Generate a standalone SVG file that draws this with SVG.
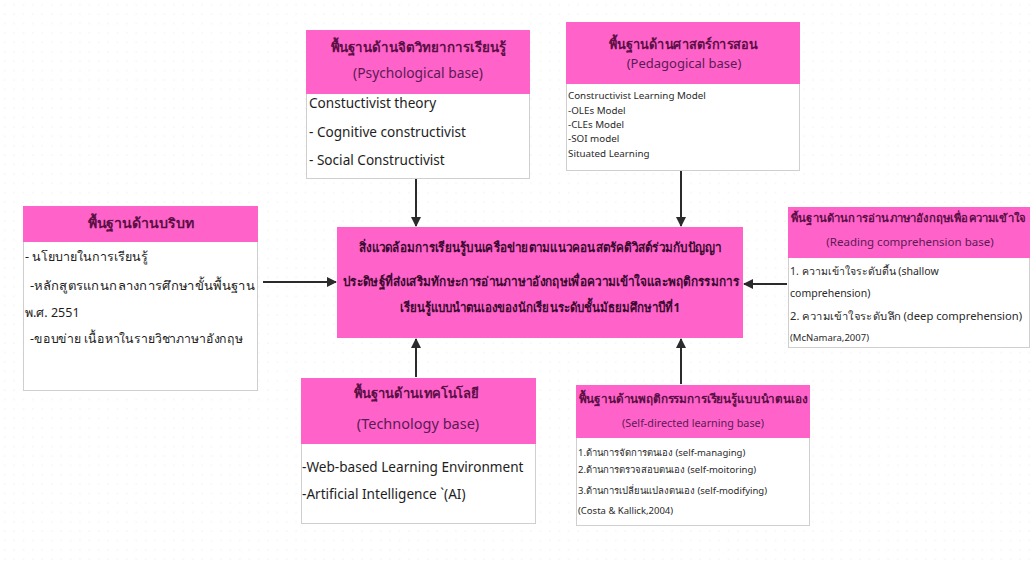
<svg xmlns="http://www.w3.org/2000/svg" width="1034" height="563" viewBox="0 0 1034 563">
  <defs>
    <pattern id="dots" width="9.4" height="9.4" patternUnits="userSpaceOnUse">
      <circle cx="4.7" cy="4.7" r="0.8" fill="#f1f1f1"/>
    </pattern>
    <marker id="arrow" viewBox="0 0 10 10" refX="9" refY="5" markerWidth="5" markerHeight="5" orient="auto" markerUnits="strokeWidth">
      <path d="M0,0 L10,5 L0,10 z" fill="#2b2b2b"/>
    </marker>
    <style>
      .head { fill: #ff63c9; }
      .body { fill: #ffffff; stroke: #cfcfcf; stroke-width: 1; }
      .title { font-family: "Noto Sans", "DejaVu Sans", sans-serif; font-size: 13.5px; font-weight: bold; fill: #5a0f45; text-anchor: middle; }
      .sub { font-family: "Noto Sans", "DejaVu Sans", sans-serif; font-size: 13px; fill: #5a1a55; text-anchor: middle; }
      .txt { font-family: "Noto Sans", "DejaVu Sans", sans-serif; font-size: 13.6px; fill: #1e1e1e; }
      .thai { font-family: "Noto Sans", "DejaVu Sans", sans-serif; font-size: 12.5px; fill: #1e1e1e; }
      .small { font-family: "Noto Sans", "DejaVu Sans", sans-serif; font-size: 9.8px; fill: #2a2a2a; }
      .tiny { font-family: "Noto Sans", "DejaVu Sans", sans-serif; font-size: 9.5px; fill: #2a2a2a; }
      .mid { font-family: "Noto Sans", "DejaVu Sans", sans-serif; font-size: 10.5px; fill: #2a2a2a; }
      .ctr { font-family: "Noto Sans", "DejaVu Sans", sans-serif; font-size: 13px; font-weight: bold; fill: #3a0a30; text-anchor: middle; }
      .link { stroke: #2b2b2b; stroke-width: 2; fill: none; marker-end: url(#arrow); }
    </style>
  </defs>

  <rect width="1034" height="563" fill="#ffffff"/>
  <rect width="1034" height="563" fill="url(#dots)"/>

  <!-- Psychological base -->
  <g id="psychological">
    <rect class="body" x="306.5" y="30.5" width="223" height="148"/>
    <rect class="head" x="306" y="30" width="224" height="64"/>
    <text class="title" x="418" y="52" textLength="175" lengthAdjust="spacingAndGlyphs">พื้นฐานด้านจิตวิทยาการเรียนรู้</text>
    <text class="sub" x="418" y="78" style="font-size:13.8px">(Psychological base)</text>
    <text class="txt" x="309" y="108">Constuctivist theory</text>
    <text class="txt" x="309" y="137">- Cognitive constructivist</text>
    <text class="txt" x="309" y="165">- Social Constructivist</text>
  </g>

  <!-- Pedagogical base -->
  <g id="pedagogical">
    <rect class="body" x="566.5" y="22.5" width="233" height="148"/>
    <rect class="head" x="566" y="22" width="234" height="62"/>
    <text class="title" x="683" y="49" textLength="148" lengthAdjust="spacingAndGlyphs">พื้นฐานด้านศาสตร์การสอน</text>
    <text class="sub" x="684" y="68">(Pedagogical base)</text>
    <text class="small" x="568" y="99">Constructivist Learning Model</text>
    <text class="small" x="568" y="114">-OLEs Model</text>
    <text class="small" x="568" y="128">-CLEs Model</text>
    <text class="small" x="568" y="142">-SOI model</text>
    <text class="small" x="568" y="157">Situated Learning</text>
  </g>

  <!-- Context base -->
  <g id="context">
    <rect class="body" x="23.5" y="206.5" width="234" height="184"/>
    <rect class="head" x="23" y="206" width="235" height="36"/>
    <text class="title" x="141" y="228" textLength="107" lengthAdjust="spacingAndGlyphs">พื้นฐานด้านบริบท</text>
    <text class="thai" x="25" y="261">- นโยบายในการเรียนรู้</text>
    <text class="thai" x="30" y="290" textLength="225" lengthAdjust="spacingAndGlyphs">-หลักสูตรแกนกลางการศึกษาขั้นพื้นฐาน</text>
    <text class="thai" x="25" y="317">พ.ศ. 2551</text>
    <text class="thai" x="30" y="343" textLength="213" lengthAdjust="spacingAndGlyphs">-ขอบข่าย เนื้อหาในรายวิชาภาษาอังกฤษ</text>
  </g>

  <!-- Central learning environment -->
  <g id="environment">
    <rect class="head" x="337" y="227" width="406" height="111"/>
    <text class="ctr" x="540" y="252" textLength="362" lengthAdjust="spacingAndGlyphs">สิ่งแวดล้อมการเรียนรู้บนเครือข่ายตามแนวคอนสตรัคติวิสต์ร่วมกับปัญญา</text>
    <text class="ctr" x="541" y="286" textLength="396" lengthAdjust="spacingAndGlyphs">ประดิษฐ์ที่ส่งเสริมทักษะการอ่านภาษาอังกฤษเพื่อความเข้าใจและพฤติกรรมการ</text>
    <text class="ctr" x="540" y="312" textLength="280" lengthAdjust="spacingAndGlyphs">เรียนรู้แบบนำตนเองของนักเรียนระดับชั้นมัธยมศึกษาปีที่1</text>
  </g>

  <!-- Reading comprehension base -->
  <g id="reading">
    <rect class="body" x="788.5" y="207.5" width="241" height="140"/>
    <rect class="head" x="788" y="207" width="242" height="51"/>
    <text class="title" x="908" y="222" style="font-size:11px" textLength="234" lengthAdjust="spacingAndGlyphs">พื้นฐานด้านการอ่านภาษาอังกฤษเพื่อความเข้าใจ</text>
    <text class="sub" x="910" y="246" style="font-size:11.5px">(Reading comprehension base)</text>
    <text class="mid" x="790" y="275">1. ความเข้าใจระดับตื้น (shallow</text>
    <text class="mid" x="790" y="297">comprehension)</text>
    <text class="mid" x="790" y="320" textLength="232" lengthAdjust="spacingAndGlyphs">2. ความเข้าใจระดับลึก (deep comprehension)</text>
    <text class="tiny" x="790" y="341">(McNamara,2007)</text>
  </g>

  <!-- Technology base -->
  <g id="technology">
    <rect class="body" x="301.5" y="378.5" width="234" height="145"/>
    <rect class="head" x="301" y="378" width="235" height="66"/>
    <text class="title" x="416" y="398" textLength="125" lengthAdjust="spacingAndGlyphs">พื้นฐานด้านเทคโนโลยี</text>
    <text class="sub" x="418" y="429" style="font-size:14.5px">(Technology base)</text>
    <text class="txt" x="302" y="472">-Web-based Learning Environment</text>
    <text class="txt" x="302" y="499">-Artificial Intelligence `(AI)</text>
  </g>

  <!-- Self-directed learning base -->
  <g id="selfdirected">
    <rect class="body" x="576.5" y="385.5" width="233" height="140"/>
    <rect class="head" x="576" y="385" width="234" height="53"/>
    <text class="title" x="693" y="403" style="font-size:12px" textLength="229" lengthAdjust="spacingAndGlyphs">พื้นฐานด้านพฤติกรรมการเรียนรู้แบบนำตนเอง</text>
    <text class="sub" x="693" y="427" style="font-size:10.8px">(Self-directed learning base)</text>
    <text class="tiny" x="578" y="456">1.ด้านการจัดการตนเอง (self-managing)</text>
    <text class="tiny" x="578" y="473">2.ด้านการตรวจสอบตนเอง (self-moitoring)</text>
    <text class="tiny" x="578" y="494">3.ด้านการเปลี่ยนแปลงตนเอง (self-modifying)</text>
    <text class="tiny" x="578" y="514">(Costa &amp; Kallick,2004)</text>
  </g>

  <!-- Connectors -->
  <g id="connectors">
    <line class="link" x1="416" y1="179" x2="416" y2="226"/>
    <line class="link" x1="681" y1="171" x2="681" y2="226"/>
    <line class="link" x1="263" y1="282" x2="336" y2="282"/>
    <line class="link" x1="787" y1="284" x2="744" y2="284"/>
    <line class="link" x1="416" y1="377" x2="416" y2="339"/>
    <line class="link" x1="681" y1="384" x2="681" y2="339"/>
  </g>
</svg>
